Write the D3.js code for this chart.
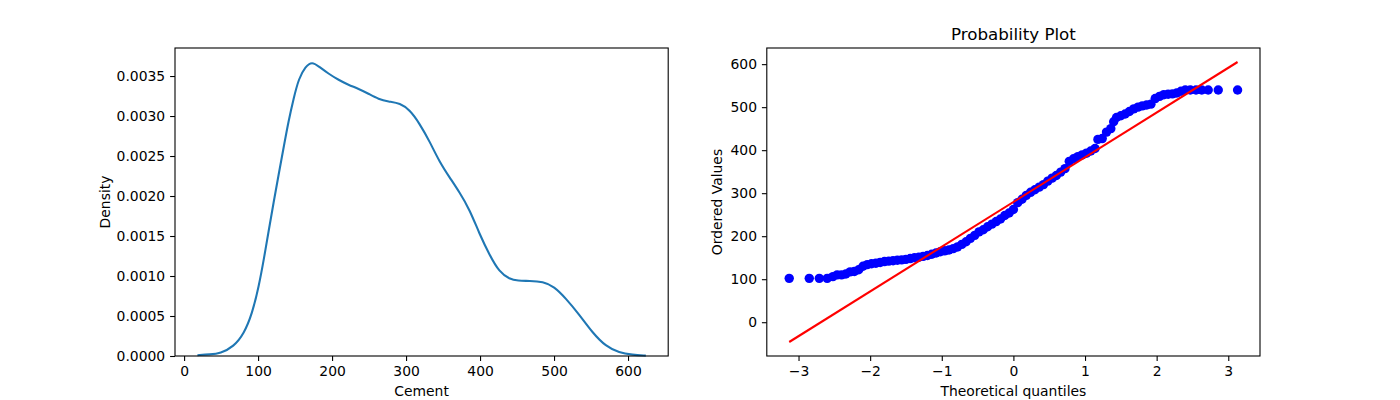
<!DOCTYPE html>
<html>
<head>
<meta charset="utf-8">
<script src="https://cdn.jsdelivr.net/npm/d3@7"></script>
<style>
    body { margin: 0; background: #fff; }
    svg text { font-family: "DejaVu Sans", sans-serif; fill: #000; }
</style>
</head>
<body>
<svg id="chart" width="1400" height="400"></svg>
<script>
// KDE of Cement
var cementX = [18, 35, 49, 67, 81, 92, 101, 108, 114, 121, 128, 135, 141, 148, 155, 164, 173, 182, 195, 209,
    222, 236, 249, 263, 276, 292, 305, 318, 332, 345, 359, 372, 386, 399, 413, 426, 440, 451, 467, 485,
    500, 516, 534, 552, 570, 588, 606, 624];
var cementDensity = [0.00001, 0.00002, 0.000033, 0.000117, 0.00028, 0.00053, 0.00087, 0.00122, 0.00155, 0.00192,
    0.00228, 0.00263, 0.00293, 0.00322, 0.00347, 0.00362, 0.00368, 0.00362, 0.00353, 0.00345,
    0.00339, 0.00334, 0.00328, 0.00321, 0.00318, 0.00316, 0.003075, 0.00291, 0.00268, 0.00243,
    0.00223, 0.00205, 0.00183, 0.00153, 0.00126, 0.00105, 0.00096, 0.00094, 0.00094, 0.00093,
    0.00087, 0.00072, 0.00052, 0.00029, 0.00012, 0.00004, 0.000015, 0.000005];
var densityTicks = [0, 0.0005, 0.001, 0.0015, 0.002, 0.0025, 0.003, 0.0035];
var cementTicks = [0, 100, 200, 300, 400, 500, 600];

// probability plot
var theoQuantiles = [-3.13, -2.85, -2.71, -2.60, -2.52, -2.46, -2.40, -2.34, -2.28, -2.22, -2.16, -2.10, -2.04,
    -1.98, -1.92, -1.86, -1.80, -1.74, -1.68, -1.62, -1.56, -1.50, -1.44, -1.38, -1.32, -1.26, -1.20,
    -1.14, -1.08, -1.02, -0.96, -0.90, -0.84, -0.78, -0.72, -0.66, -0.60, -0.54, -0.48, -0.42, -0.36,
    -0.30, -0.24, -0.18, -0.12, -0.06, 0.00, 0.06, 0.12, 0.18, 0.24, 0.30, 0.36, 0.42, 0.48, 0.54,
    0.60, 0.66, 0.72, 0.78, 0.84, 0.90, 0.96, 1.02, 1.08, 1.14, 1.18, 1.24, 1.30, 1.36, 1.40, 1.44,
    1.50, 1.56, 1.62, 1.68, 1.74, 1.80, 1.86, 1.92, 1.98, 2.04, 2.10, 2.16, 2.22, 2.28, 2.34, 2.40,
    2.47, 2.55, 2.63, 2.72, 2.86, 3.13];
var orderedValues = [102, 102, 102, 102, 106, 110, 110, 112, 117, 118, 122, 130, 134,
    136, 137, 139, 141, 142, 143, 144, 145, 146, 148, 150, 151, 153, 155,
    158, 161, 164, 166, 168, 171, 175, 181, 187, 195, 202, 210, 215, 222,
    228, 234, 240, 248, 254, 262, 278, 286, 295, 302, 308, 314, 320, 328, 335,
    341, 349, 357, 374, 380, 385, 389, 393, 398, 404, 425, 427, 442, 450, 466, 476,
    480, 484, 490, 496, 500, 503, 505, 507, 520, 525, 529, 530, 531, 533, 537, 540,
    540, 540, 540, 540, 540, 540];
var fitLineX = [-3.13, 3.13];
var fitLineY = [-46, 605];
var valueTicks = [0, 100, 200, 300, 400, 500, 600];
var quantileTicks = [-3, -2, -1, 0, 1, 2, 3];

var svg = d3.select('#chart');

// matplotlib-ish padding of 5% on each side
function padded(lo, hi) {
    var m = (hi - lo) * 0.05;
    return [lo - m, hi + m];
}

function drawAxes(g, x, y, xTicks, yTicks, xFmt, yFmt) {
    var xAxis = g.append('g')
        .attr('transform', 'translate(0,' + y.range()[0] + ')')
        .call(d3.axisBottom(x).tickValues(xTicks).tickFormat(xFmt).tickSizeInner(4.9).tickSizeOuter(0).tickPadding(4.9));
    var yAxis = g.append('g')
        .attr('transform', 'translate(' + x.range()[0] + ',0)')
        .call(d3.axisLeft(y).tickValues(yTicks).tickFormat(yFmt).tickSizeInner(4.9).tickSizeOuter(0).tickPadding(4.9));

    [xAxis, yAxis].forEach(function (a) {
        a.select('.domain').remove();
        a.selectAll('line').attr('stroke', '#000').attr('stroke-width', 1.1);
        a.selectAll('text').attr('font-size', '13.9px').attr('fill', '#000');
    });

    g.append('rect')
        .attr('x', x.range()[0])
        .attr('y', y.range()[1])
        .attr('width', x.range()[1] - x.range()[0])
        .attr('height', y.range()[0] - y.range()[1])
        .attr('fill', 'none')
        .attr('stroke', '#000')
        .attr('stroke-width', 1.1);
}

// ---- left: KDE ----
var left = svg.append('g');
var kx = d3.scaleLinear().domain(padded(d3.min(cementX), d3.max(cementX))).range([175, 668.2]);
var ky = d3.scaleLinear().domain([0, 0.003667 * 1.05]).range([356, 48]);

var kde = cementX.map(function (c, i) { return [c, cementDensity[i]]; });

// basis smooths out the read-off jitter
left.append('path')
    .datum(kde)
    .attr('fill', 'none')
    .attr('stroke', '#1f77b4')
    .attr('stroke-width', 2.08)
    .attr('d', d3.line()
        .x(function (d) { return kx(d[0]); })
        .y(function (d) { return ky(d[1]); })
        .curve(d3.curveBasis));

drawAxes(left, kx, ky, cementTicks, densityTicks, d3.format('d'), d3.format('.4f'));

left.append('text')
    .attr('x', (175 + 668.2) / 2)
    .attr('y', 396)
    .attr('text-anchor', 'middle')
    .attr('font-size', '13.9px')
    .text('Cement');

left.append('text')
    .attr('transform', 'translate(110,' + (48 + 356) / 2 + ') rotate(-90)')
    .attr('text-anchor', 'middle')
    .attr('font-size', '13.9px')
    .text('Density');

// ---- right: probability plot ----
var right = svg.append('g');
var px = d3.scaleLinear().domain(padded(d3.min(theoQuantiles), d3.max(theoQuantiles))).range([766.8, 1260]);
var py = d3.scaleLinear()
    .domain(padded(Math.min(d3.min(orderedValues), d3.min(fitLineY)), Math.max(d3.max(orderedValues), d3.max(fitLineY))))
    .range([356, 48]);

right.selectAll('circle.pt')
    .data(theoQuantiles)
    .enter()
    .append('circle')
    .attr('class', 'pt')
    .attr('cx', function (d) { return px(d); })
    .attr('cy', function (d, i) { return py(orderedValues[i]); })
    .attr('r', 4.7)
    .attr('fill', '#0000ff');

right.append('line')
    .attr('x1', px(fitLineX[0]))
    .attr('y1', py(fitLineY[0]))
    .attr('x2', px(fitLineX[1]))
    .attr('y2', py(fitLineY[1]))
    .attr('stroke', '#ff0000')
    .attr('stroke-width', 2.08);

drawAxes(right, px, py, quantileTicks, valueTicks, d3.format('d'), d3.format('d'));

right.append('text')
    .attr('x', (766.8 + 1260) / 2)
    .attr('y', 396)
    .attr('text-anchor', 'middle')
    .attr('font-size', '13.9px')
    .text('Theoretical quantiles');

right.append('text')
    .attr('transform', 'translate(722,' + (48 + 356) / 2 + ') rotate(-90)')
    .attr('text-anchor', 'middle')
    .attr('font-size', '13.9px')
    .text('Ordered Values');

right.append('text')
    .attr('x', (766.8 + 1260) / 2)
    .attr('y', 40)
    .attr('text-anchor', 'middle')
    .attr('font-size', '16.7px')
    .text('Probability Plot');
</script>
</body>
</html>
